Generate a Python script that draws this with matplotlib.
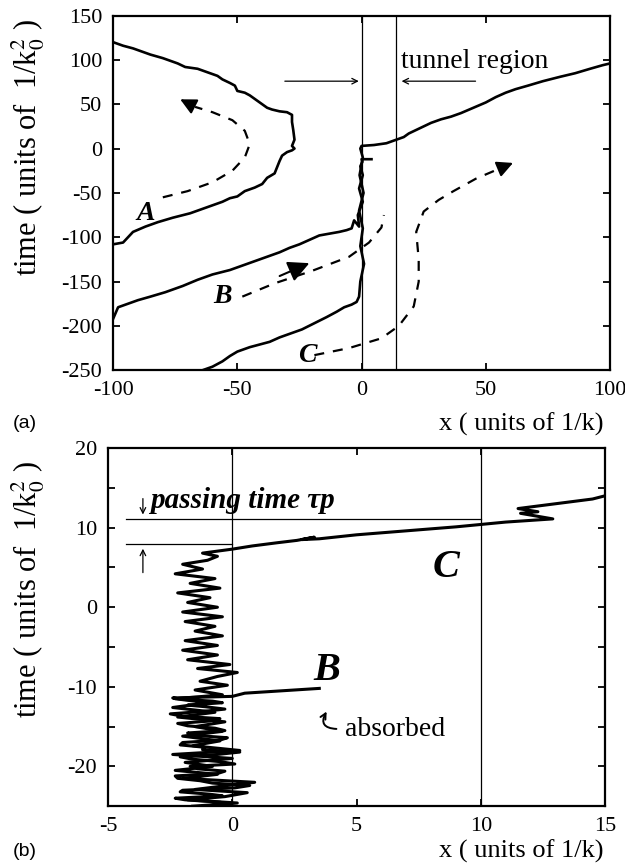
import numpy as np
import matplotlib.pyplot as plt

plt.rcParams['font.family'] = ['Liberation Serif', 'DejaVu Serif']
plt.rcParams['mathtext.fontset'] = 'stix'
plt.rcParams['axes.unicode_minus'] = False

# ---------------- panel (a) data (x, time) ----------------
A_x = [-100, -96, -92, -88, -85, -80, -78, -74, -71, -66, -64, -61, -58, -56, -53, -51, -50, -47, -45,
       -43, -41, -38, -36, -33, -30, -28, -28, -27.5, -27, -28, -27, -28,
       -30, -32, -33, -34, -35, -38, -40, -43, -47, -50, -53, -56, -59, -64, -69, -76, -82, -87, -92, -96, -100]
A_t = [120, 116, 113, 109, 106, 102, 100, 96, 92, 90, 88, 85, 82, 78, 74, 71, 65, 63, 60,
       56, 52, 46, 44, 42, 41, 38, 30, 21, 10, 3, 0, -2,
       -4, -8, -14, -21, -28, -33, -40, -44, -48, -54, -56, -60, -63, -68, -73, -78, -83, -88, -94, -106, -108]

B_x = [-100, -98, -94, -90, -85, -79, -72, -66, -60, -53, -47, -41, -37, -33, -29, -25, -21, -17, -13, -9,
       -6, -4, -3, -1, -1.5, 0.5, -1, 0.5, -0.5, 0.3, 0, 4]
B_t = [-192, -179, -175, -171, -167, -162, -155, -148, -142, -137, -131, -125, -121, -117, -112, -108, -103, -98, -96, -94,
       -92, -90, -81, -88, -75, -60, -45, -30, -20, -15, -12, -12]

C_x = [-64, -60, -56, -53, -50, -45, -41, -37, -33, -28, -24, -19, -14, -10, -7, -4, -2, -1, -0.5, 1, -0.5, 0.5,
       -1, 0.8, -0.8, 0.5, -0.5, 0, 5, 10, 14, 17, 19, 22, 25, 28, 32, 36, 40, 45, 50, 54, 58, 62, 67, 73, 80, 86, 92, 97, 100]
C_t = [-250, -246, -240, -234, -229, -224, -221, -218, -213, -208, -204, -197, -190, -184, -179, -176, -173, -167, -150, -130, -110, -90,
       -70, -50, -30, -10, 0, 3, 4, 6, 10, 13, 17, 21, 25, 29, 33, 36, 40, 46, 52, 58, 63, 67, 71, 76, 81, 85, 90, 94, 96]

# dashed guide paths
dA_x = [-80, -70, -60, -52, -47, -45, -47, -52, -60, -67]
dA_t = [-55, -48, -38, -25, -10, 5, 20, 32, 41, 47]
dB_x = [-48, -35, -20, -5, 3, 8, 9]
dB_t = [-167, -152, -138, -122, -106, -89, -75]
dC_x = [-19, -5, 8, 15, 21, 23, 23, 22, 25, 31, 37, 46, 56]
dC_t = [-233, -225, -214, -200, -178, -150, -125, -94, -71, -58, -48, -34, -22]

# ---------------- panel (b) data (x, time) ----------------
Cw_t = [-25.0, -24.6, -24.2, -23.8, -23.3, -22.9, -22.4, -22.0, -21.5, -21.0, -20.5, -20.0, -19.5, -19.0,
        -18.5, -18.0, -17.4, -16.8, -16.2, -15.6, -15.0, -14.4, -13.8, -13.2, -12.6, -12.0, -11.5, -11.0,
        -10.4, -9.8, -9.3, -8.7, -8.2, -7.7, -7.2, -6.6, -6.0, -5.4, -4.8, -4.2, -3.6, -3.0, -2.4, -1.8,
        -1.2, -0.6, 0.0, 0.6, 1.2, 1.8, 2.4, 3.0, 3.6, 4.2, 4.8, 5.4, 5.9, 6.4, 6.8, 7.3,
        7.7, 8.1, 8.4, 8.8, 8.5, 8.6, 9.1, 9.6, 10.1, 10.4, 10.7, 11.1, 11.8, 12.0, 12.4, 12.8, 13.2, 13.6, 14.0]
Cw_x = [-1.2, 0.2, -1.8, -0.3, 0.6, -1.5, -0.2, 0.9, -2.0, -0.6, -2.3, -0.8, -1.9, 0.0,
        -2.4, 0.3, -1.6, -0.5, -2.0, -0.4, -1.5, -0.3, -2.2, -0.7, -2.4, -1.0, -2.3, -0.4,
        -1.5, -0.2, -1.3, -0.6, 0.2, -1.4, -0.1, -1.8, -0.6, -2.0, -0.6, -1.9, -0.4, -1.5, -0.7, -1.9,
        -0.4, -2.0, -0.6, -1.8, -0.9, -2.2, -0.5, -1.7, -0.7, -2.3, -1.2, -2.0, -1.0, -0.6, -1.2, 0.0,
        0.8, 1.8, 2.6, 3.3, 2.8, 3.5, 5.0, 7.0, 9.0, 10.0, 11.0, 12.9, 11.6, 12.3, 11.5, 12.5, 13.5, 14.5, 15.0]

Bw_t = [-25.0, -24.7, -24.5, -24.2, -24.0, -23.7, -23.5, -23.2, -23.0, -22.7, -22.4, -22.1, -21.8, -21.5,
        -21.2, -20.9, -20.6, -20.3, -20.0, -19.7, -19.4, -19.1, -18.8, -18.5, -18.2, -17.9, -17.6, -17.3,
        -17.0, -16.7, -16.4, -16.1, -15.8, -15.5, -15.2, -14.9, -14.6, -14.3, -14.0, -13.7, -13.4, -13.1,
        -12.8, -12.5, -12.3, -12.0, -11.8, -11.6, -11.4, -11.2, -10.8, -10.6, -10.2]
Bw_x = [-1.6, -0.2, -0.5, -1.9, -2.3, -0.4, -0.9, -2.1, -2.0, 0.1, 0.7, -0.8, -1.3, -2.2,
        -2.3, -0.6, -0.3, -1.4, -1.7, 0.1, -0.5, -1.6, -2.1, -0.6, 0.3, -1.2, -1.1, -2.1,
        -2.0, -0.5, -0.2, -1.5, -1.8, -0.3, -0.7, -1.8, -2.2, -0.9, -0.5, -2.0, -2.5, -1.2,
        -0.3, -1.1, -1.8, -0.4, -0.8, -1.9, -2.4, 0.0, 0.5, 1.5, 3.5]

fig = plt.figure(figsize=(6.25, 8.65), dpi=100)

def style(ax):
    for s in ax.spines.values():
        s.set_linewidth(1.6)
    ax.tick_params(direction='in', top=True, right=True, length=5, width=1.3, labelsize=16, pad=8)
    ax.tick_params(which='minor', direction='in', top=True, right=True, length=5, width=1.3)

# ---------- (a) ----------
ax1 = fig.add_axes([0.181, 0.572, 0.795, 0.410])
ax1.plot(A_x, A_t, color='k', lw=1.9)
ax1.plot(B_x, B_t, color='k', lw=1.9)
ax1.plot(C_x, C_t, color='k', lw=1.9)
ax1.axvline(0, color='k', lw=0.9)
ax1.axvline(14, color='k', lw=0.9)

for dx, dt in [(dA_x, dA_t), (dB_x, dB_t), (dC_x, dC_t)]:
    ax1.plot(dx, dt, color='k', lw=1.6, dashes=(4.5, 4))
ax1.annotate('', xy=(-74, 57), xytext=(-67, 47),
             arrowprops=dict(arrowstyle='-|>', mutation_scale=24, color='k', lw=1.5))
ax1.annotate('', xy=(-20, -128), xytext=(-34, -145),
             arrowprops=dict(arrowstyle='-|>', mutation_scale=32, color='k', lw=1.5))
ax1.annotate('', xy=(62, -15), xytext=(56, -22),
             arrowprops=dict(arrowstyle='-|>', mutation_scale=24, color='k', lw=1.5))

ax1.annotate('', xy=(0, 76), xytext=(-32, 76),
             arrowprops=dict(arrowstyle='->', color='k', lw=0.9))
ax1.annotate('', xy=(15, 76), xytext=(47, 76),
             arrowprops=dict(arrowstyle='->', color='k', lw=0.9))
ax1.text(16, 98, 'tunnel region', fontsize=20, va='center', ha='left')

ax1.text(-87, -73, 'A', fontsize=20, fontweight='bold', style='italic', ha='center', va='center')
ax1.text(-56, -167, 'B', fontsize=20, fontweight='bold', style='italic', ha='center', va='center')
ax1.text(-22, -233, 'C', fontsize=20, fontweight='bold', style='italic', ha='center', va='center')

ax1.set_xlim(-100, 100)
ax1.set_ylim(-250, 150)
ax1.set_xticks([-100, -50, 0, 50, 100])
ax1.set_yticks(np.arange(-250, 151, 50))
style(ax1)

# ---------- (b) ----------
ax2 = fig.add_axes([0.173, 0.068, 0.795, 0.414])
ax2.plot(Cw_x, Cw_t, color='k', lw=2.2)
ax2.plot(Bw_x, Bw_t, color='k', lw=2.2)
ax2.axvline(0, color='k', lw=0.9)
ax2.axvline(10, color='k', lw=0.9)
ax2.plot([-4.3, 10], [11.1, 11.1], color='k', lw=0.9)
ax2.plot([-4.3, 0], [7.9, 7.9], color='k', lw=0.9)
ax2.annotate('', xy=(-3.6, 11.3), xytext=(-3.6, 14.0),
             arrowprops=dict(arrowstyle='->', color='k', lw=0.9))
ax2.annotate('', xy=(-3.6, 7.7), xytext=(-3.6, 4.0),
             arrowprops=dict(arrowstyle='->', color='k', lw=0.9))
ax2.text(-3.3, 13.4, 'passing time τp', fontsize=21, fontweight='bold', style='italic',
         ha='left', va='center')
ax2.text(8.6, 5.0, 'C', fontsize=29, fontweight='bold', style='italic', ha='center', va='center')
ax2.text(3.8, -8.0, 'B', fontsize=29, fontweight='bold', style='italic', ha='center', va='center')
ax2.annotate('', xy=(3.85, -12.8), xytext=(4.3, -15.3),
             arrowprops=dict(arrowstyle='->', color='k', lw=1.4, connectionstyle='arc3,rad=-0.9'))
ax2.text(4.55, -15.4, 'absorbed', fontsize=20, ha='left', va='center')

ax2.set_xlim(-5, 15)
ax2.set_ylim(-25, 20)
ax2.set_xticks([-5, 0, 5, 10, 15])
ax2.set_yticks([-20, -10, 0, 10, 20])
ax2.set_yticks([-15, -5, 5, 15], minor=True)
style(ax2)

# labels
sans = ['Liberation Sans', 'DejaVu Sans']
ylab = r'time ( units of  1/k$_0^2$ )'
fig.text(0.045, 0.829, ylab, rotation=90, fontsize=22, ha='center', va='center')
fig.text(0.045, 0.318, ylab, rotation=90, fontsize=22, ha='center', va='center')
fig.text(0.965, 0.510, 'x ( units of 1/k)', fontsize=19, ha='right', va='center')
fig.text(0.02, 0.510, '(a)', fontsize=14, ha='left', va='center', family=sans)
fig.text(0.965, 0.016, 'x ( units of 1/k)', fontsize=19, ha='right', va='center')
fig.text(0.02, 0.016, '(b)', fontsize=14, ha='left', va='center', family=sans)

fig.savefig('out.png', dpi=100)
